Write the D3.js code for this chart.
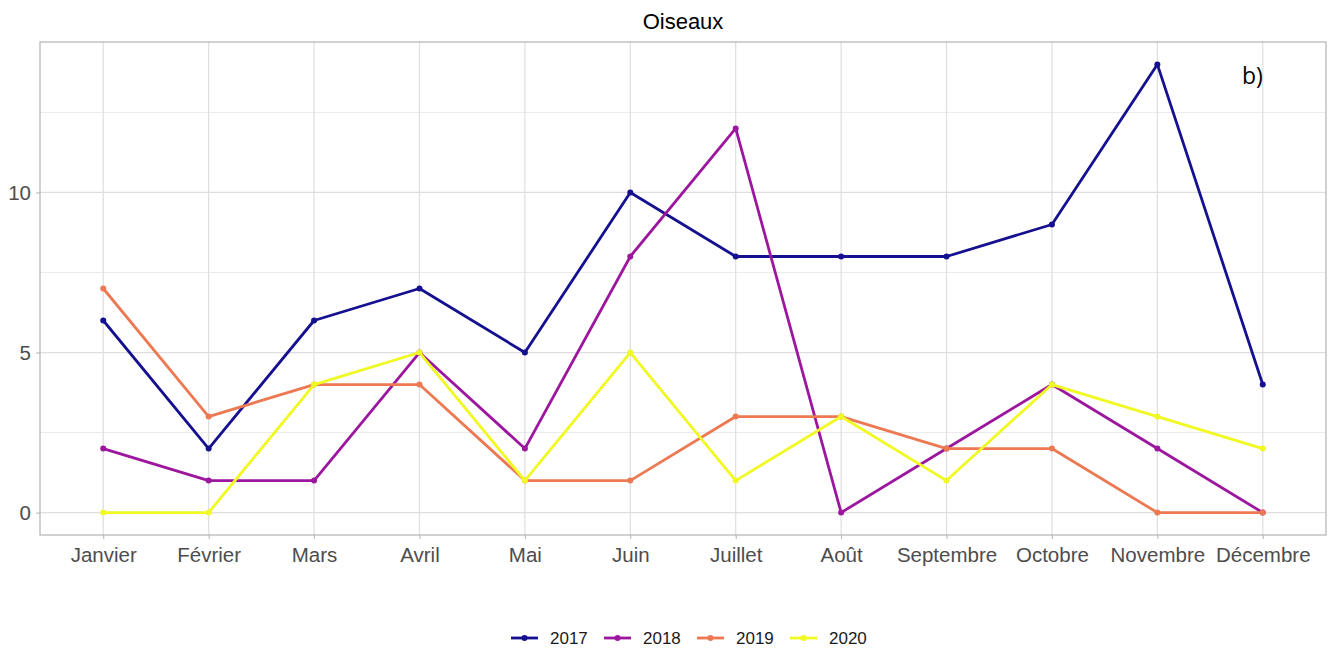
<!DOCTYPE html>
<html><head><meta charset="utf-8">
<script src="https://cdn.jsdelivr.net/npm/d3@7"></script>
<style>body{margin:0;background:#fff;}</style>
</head><body>
<svg id="c" width="1338" height="650"></svg>
<script>
const months = ["Janvier","Février","Mars","Avril","Mai","Juin","Juillet","Août","Septembre","Octobre","Novembre","Décembre"];
const years = ["2017","2018","2019","2020"];
const v2017 = [6,2,6,7,5,10,8,8,8,9,14,4];
const v2018 = [2,1,1,5,2,8,12,0,2,4,2,0];
const v2019 = [7,3,4,4,1,1,3,3,2,2,0,0];
const v2020 = [0,0,4,5,1,5,1,3,1,4,3,2];
const colors = ["#15108F","#9C179E","#ED7953","#F0F921"];
const yTicks = [0,5,10];
const yMinor = [2.5,7.5,12.5];
const title = "Oiseaux";
const tag = "b)";

const series = [v2017,v2018,v2019,v2020].map((vals,i)=>({year:years[i],color:colors[i],vals}));

const svg = d3.select("#c");
const L=40,T=42,R=1326,B=535;
const x = d3.scalePoint().domain(months).range([L,R]).padding(0.6);
const y = d3.scaleLinear().domain([-0.7,14.7]).range([B,T]);
const FONT = "Liberation Sans, Arial, sans-serif";

const g = svg.append("g");
g.selectAll(".ymin").data(yMinor).join("line")
 .attr("x1",L).attr("x2",R).attr("y1",d=>y(d)).attr("y2",d=>y(d))
 .attr("stroke","#ebebeb").attr("stroke-width",1);
g.selectAll(".ymaj").data(yTicks).join("line")
 .attr("x1",L).attr("x2",R).attr("y1",d=>y(d)).attr("y2",d=>y(d))
 .attr("stroke","#dedede").attr("stroke-width",1.2);
g.selectAll(".xmaj").data(months).join("line")
 .attr("x1",d=>x(d)).attr("x2",d=>x(d)).attr("y1",T).attr("y2",B)
 .attr("stroke","#dedede").attr("stroke-width",1.2);

const xAxis = d3.axisBottom(x).tickSize(4).tickPadding(8);
const yAxis = d3.axisLeft(y).tickValues(yTicks).tickSize(4).tickPadding(5);
const gx = svg.append("g").attr("transform",`translate(0,${B})`).call(xAxis);
const gy = svg.append("g").attr("transform",`translate(${L},0)`).call(yAxis);
[gx,gy].forEach(a=>{
  a.select(".domain").remove();
  a.selectAll(".tick line").attr("stroke","#b3b3b3");
  a.selectAll(".tick text").attr("fill","#4d4d4d").style("font-family",FONT).style("font-size","20.5px");
});

const line = d3.line().x((d,i)=>x(months[i])).y(d=>y(d));
series.forEach(s=>{
  svg.append("path").datum(s.vals).attr("d",line)
    .attr("fill","none").attr("stroke",s.color).attr("stroke-width",2.8).attr("stroke-linejoin","round");
  svg.append("g").selectAll("circle").data(s.vals).join("circle")
    .attr("cx",(d,i)=>x(months[i])).attr("cy",d=>y(d)).attr("r",3).attr("fill",s.color);
});

svg.append("rect").attr("x",L).attr("y",T).attr("width",R-L).attr("height",B-T)
  .attr("fill","none").attr("stroke","#b3b3b3").attr("stroke-width",1.2);

svg.append("text").attr("x",(L+R)/2).attr("y",29).attr("text-anchor","middle")
  .style("font-family",FONT).style("font-size","22px").attr("fill","#000").text(title);
svg.append("text").attr("x",1242).attr("y",84)
  .style("font-family","Open Sans, sans-serif").style("font-size","23px").attr("fill","#000").text(tag);

const lg = svg.append("g");
series.forEach((s,i)=>{
  const x0 = 511 + i*93;
  lg.append("line").attr("x1",x0).attr("x2",x0+27).attr("y1",638).attr("y2",638)
    .attr("stroke",s.color).attr("stroke-width",2.8);
  lg.append("circle").attr("cx",x0+13.5).attr("cy",638).attr("r",3).attr("fill",s.color);
  lg.append("text").attr("x",x0+39).attr("y",644)
    .style("font-family",FONT).style("font-size","17px").attr("fill","#1a1a1a").text(s.year);
});
</script>
</body></html>
